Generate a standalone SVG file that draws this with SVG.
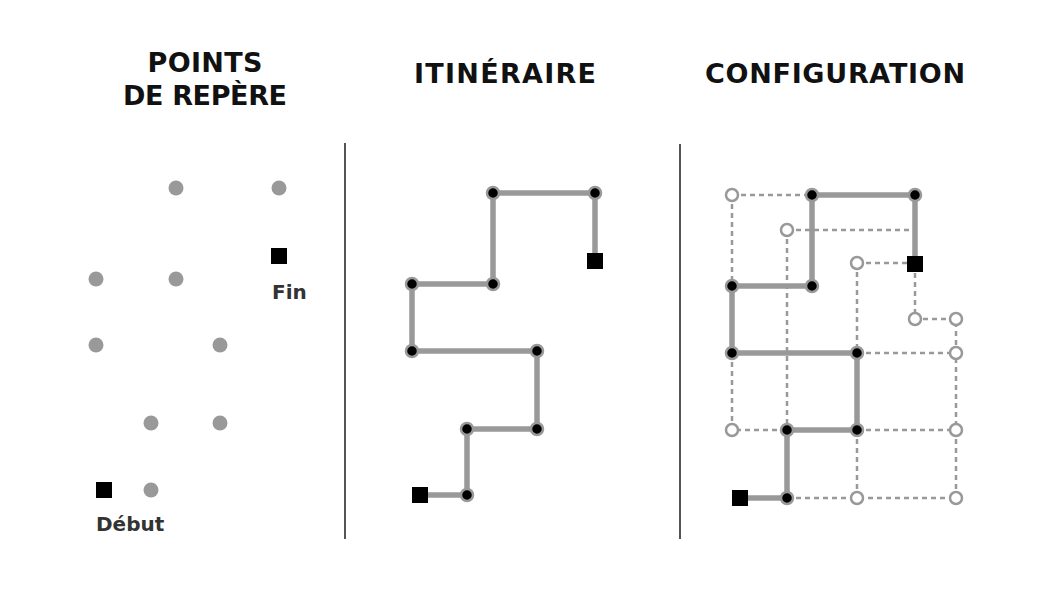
<svg xmlns="http://www.w3.org/2000/svg" width="1063" height="611" viewBox="0 0 1063 611">
<style>
.title{font-family:"DejaVu Sans","Verdana",sans-serif;font-weight:bold;font-size:27px;fill:#111;text-anchor:middle}
.lbl{font-family:"DejaVu Sans","Verdana",sans-serif;font-weight:bold;font-size:20px;fill:#333}
.div{stroke:#555;stroke-width:2}
.dot{fill:#999}
.path{fill:none;stroke:#999;stroke-width:5.5;stroke-linejoin:round}
.dash{fill:none;stroke:#999;stroke-width:2.5;stroke-dasharray:5 4}
.node{fill:#000;stroke:#999;stroke-width:2.5}
.hollow{fill:#fff;stroke:#999;stroke-width:2.5}
.sq{fill:#000}
</style>
<rect width="1063" height="611" fill="#fff"/>
<g id="titles">
<text class="title" x="205" y="72" textLength="115" lengthAdjust="spacing">POINTS</text>
<text class="title" x="205" y="105" textLength="164" lengthAdjust="spacing">DE REPÈRE</text>
<text class="title" x="505" y="83" textLength="182" lengthAdjust="spacing">ITINÉRAIRE</text>
<text class="title" x="835" y="83" textLength="260" lengthAdjust="spacing">CONFIGURATION</text>
</g>
<g id="dividers">
<line class="div" x1="345" y1="143" x2="345" y2="539"/>
<line class="div" x1="680" y1="144" x2="680" y2="539"/>
</g>
<g id="panel-landmarks">
<circle class="dot" cx="176" cy="188" r="7.5"/>
<circle class="dot" cx="279" cy="188" r="7.5"/>
<circle class="dot" cx="96" cy="279" r="7.5"/>
<circle class="dot" cx="176" cy="279" r="7.5"/>
<circle class="dot" cx="96" cy="345" r="7.5"/>
<circle class="dot" cx="220" cy="345" r="7.5"/>
<circle class="dot" cx="151" cy="423" r="7.5"/>
<circle class="dot" cx="220" cy="423" r="7.5"/>
<circle class="dot" cx="151" cy="490" r="7.5"/>
<rect class="sq" x="271" y="248" width="16" height="16"/>
<rect class="sq" x="96" y="482" width="16" height="16"/>
<text class="lbl" x="272" y="299">Fin</text>
<text class="lbl" x="96" y="531">Début</text>
</g>
<g id="connectors">
<polyline class="path" points="595,261 595,193 493,193 493,284 412,284 412,351 537,351 537,429 467,429 467,495 420,495"/>
<g id="dashes">
<polyline class="dash" points="732,195 812,195"/>
<polyline class="dash" points="732,195 732,286"/>
<polyline class="dash" points="732,353 732,430 787,430"/>
<polyline class="dash" points="787,230 915,230"/>
<polyline class="dash" points="787,230 787,430"/>
<polyline class="dash" points="857,263 915,263"/>
<polyline class="dash" points="857,263 857,353"/>
<polyline class="dash" points="915,264 915,319 956,319 956,498"/>
<polyline class="dash" points="857,353 956,353"/>
<polyline class="dash" points="857,430 956,430"/>
<polyline class="dash" points="787,498 956,498"/>
<polyline class="dash" points="857,430 857,498"/>
</g>
<polyline class="path" points="740,498 787,498 787,430 857,430 857,353 732,353 732,286 812,286 812,195 915,195 915,264"/>
</g>
<g id="panel-route">
<circle class="node" cx="493" cy="193" r="6"/>
<circle class="node" cx="595" cy="193" r="6"/>
<circle class="node" cx="412" cy="284" r="6"/>
<circle class="node" cx="493" cy="284" r="6"/>
<circle class="node" cx="412" cy="351" r="6"/>
<circle class="node" cx="537" cy="351" r="6"/>
<circle class="node" cx="537" cy="429" r="6"/>
<circle class="node" cx="467" cy="429" r="6"/>
<circle class="node" cx="467" cy="495" r="6"/>
<rect class="sq" x="587" y="253" width="16" height="16"/>
<rect class="sq" x="412" y="487" width="16" height="16"/>
</g>
<g id="panel-configuration">
<circle class="hollow" cx="732" cy="195" r="6"/>
<circle class="hollow" cx="787" cy="230" r="6"/>
<circle class="hollow" cx="857" cy="263" r="6"/>
<circle class="hollow" cx="915" cy="319" r="6"/>
<circle class="hollow" cx="956" cy="319" r="6"/>
<circle class="hollow" cx="956" cy="353" r="6"/>
<circle class="hollow" cx="732" cy="430" r="6"/>
<circle class="hollow" cx="956" cy="430" r="6"/>
<circle class="hollow" cx="857" cy="498" r="6"/>
<circle class="hollow" cx="956" cy="498" r="6"/>
<circle class="node" cx="812" cy="195" r="6"/>
<circle class="node" cx="915" cy="195" r="6"/>
<circle class="node" cx="732" cy="286" r="6"/>
<circle class="node" cx="812" cy="286" r="6"/>
<circle class="node" cx="732" cy="353" r="6"/>
<circle class="node" cx="857" cy="353" r="6"/>
<circle class="node" cx="787" cy="430" r="6"/>
<circle class="node" cx="857" cy="430" r="6"/>
<circle class="node" cx="787" cy="498" r="6"/>
<rect class="sq" x="907" y="256" width="16" height="16"/>
<rect class="sq" x="732" y="490" width="16" height="16"/>
</g>
</svg>
